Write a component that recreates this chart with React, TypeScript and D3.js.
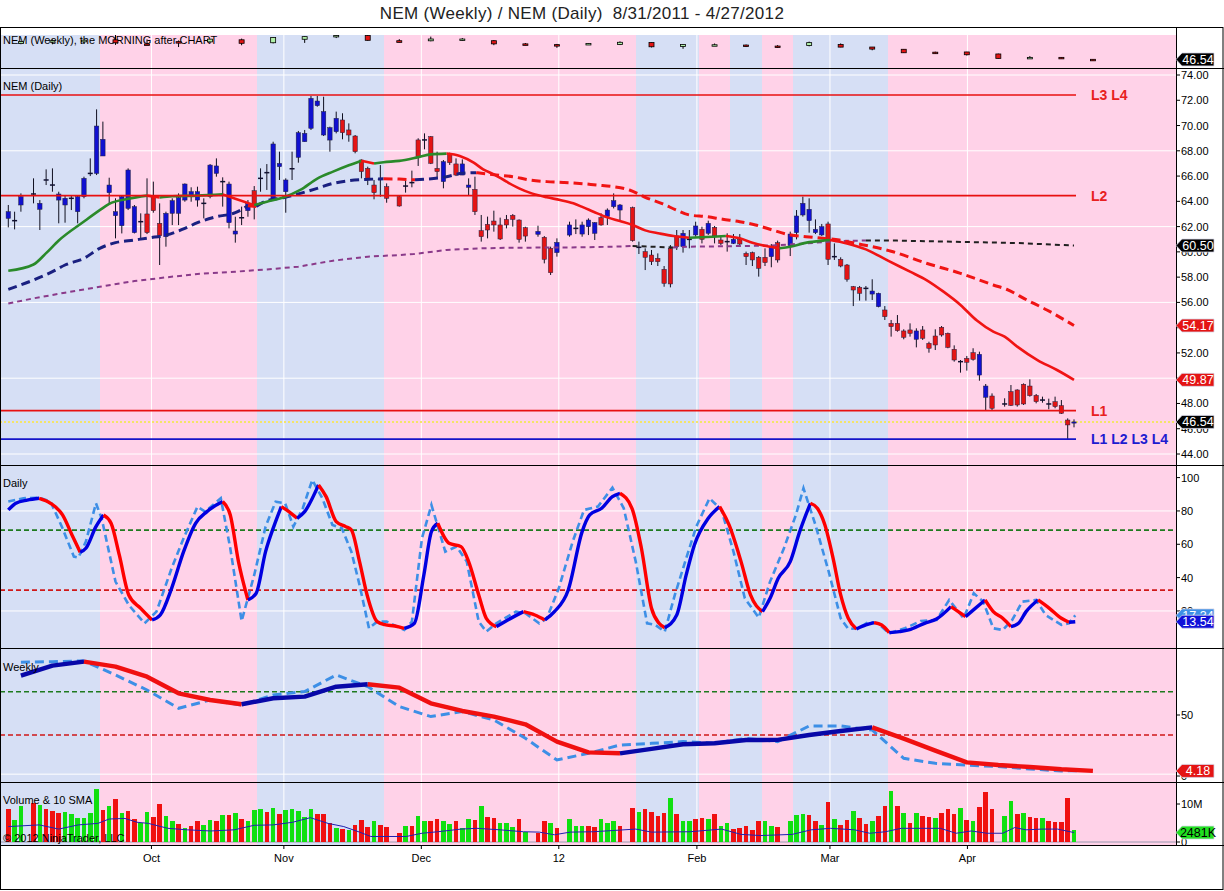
import React from 'react';
import * as d3 from 'd3';

type Candle = [number, number, number, number, number];
type Pt = [number, number];

// daily bars: [slot, open, high, low, close]; slots are weekdays, holidays are missing
const candles: Candle[] = [
  [0, 62.65, 63.71, 61.94, 63.18], [1, 62.47, 63.18, 61.78, 62.47], [2, 63.71, 64.63, 63.18, 64.37],
  [4, 64.58, 65.82, 63.84, 64.58], [5, 63.37, 64.1, 61.73, 63.84], [6, 65.69, 66.53, 65.29, 65.69],
  [7, 65.29, 66.61, 64.76, 65.29], [8, 64.1, 64.76, 62.26, 64.58], [9, 63.71, 64.5, 62.31, 64.24],
  [10, 64.24, 64.5, 63.31, 64.24], [11, 63.18, 64.5, 62.26, 64.37], [12, 64.37, 65.95, 64.24, 65.82],
  [13, 66.21, 67.4, 66.0, 66.21], [14, 66.21, 71.28, 66.08, 69.96], [15, 67.59, 70.31, 67.59, 68.91],
  [16, 64.68, 65.87, 63.84, 65.29], [17, 62.86, 64.24, 61.07, 63.18], [18, 62.07, 64.5, 61.46, 64.37],
  [19, 63.44, 66.61, 63.31, 66.48], [20, 61.52, 63.71, 61.46, 63.58], [21, 62.39, 63.05, 61.07, 62.39],
  [22, 63.0, 65.82, 61.41, 61.52], [23, 64.37, 65.56, 63.1, 63.26], [24, 62.26, 63.84, 58.96, 61.28],
  [25, 61.2, 63.18, 60.41, 63.05], [26, 63.05, 64.24, 62.12, 64.05], [27, 63.05, 64.63, 62.12, 64.29],
  [28, 64.1, 65.42, 63.97, 65.37], [29, 64.42, 65.11, 63.97, 64.76], [30, 64.1, 65.16, 63.58, 64.76],
  [31, 63.84, 64.24, 62.65, 63.84], [32, 64.37, 66.95, 64.24, 66.87], [33, 66.21, 67.4, 65.95, 66.8],
  [34, 65.56, 65.9, 63.58, 65.56], [35, 62.31, 65.56, 61.86, 65.37], [36, 61.41, 62.78, 60.73, 61.65],
  [37, 62.7, 63.58, 62.12, 62.7], [38, 63.26, 64.1, 62.78, 63.84], [39, 64.84, 65.21, 62.57, 63.63],
  [40, 65.82, 66.61, 64.76, 65.82], [41, 66.27, 66.95, 64.9, 66.27], [42, 64.16, 68.72, 64.05, 68.54],
  [43, 66.74, 67.93, 65.69, 67.0], [44, 64.76, 65.82, 63.1, 65.69], [45, 66.58, 67.93, 65.69, 66.58],
  [46, 67.48, 69.57, 67.06, 69.43], [47, 68.72, 69.65, 68.72, 69.38], [48, 69.78, 72.34, 69.65, 72.15],
  [49, 71.57, 72.34, 71.49, 71.94], [50, 69.25, 72.28, 69.17, 71.1], [51, 68.85, 69.91, 67.93, 69.83],
  [52, 69.51, 71.1, 69.38, 70.57], [53, 70.44, 70.97, 68.91, 69.43], [54, 69.65, 70.17, 68.72, 69.25],
  [55, 69.17, 69.25, 67.8, 67.93], [56, 67.27, 67.32, 65.82, 66.35], [57, 66.61, 66.74, 65.29, 65.69],
  [58, 65.29, 65.69, 64.16, 64.68], [59, 65.74, 66.87, 64.37, 65.74], [60, 65.16, 65.42, 63.89, 64.24],
  [62, 64.37, 64.5, 63.58, 63.63], [63, 65.21, 65.64, 64.69, 65.21], [64, 65.48, 66.43, 65.11, 65.48],
  [65, 68.86, 68.99, 66.8, 67.54], [66, 68.86, 69.38, 68.12, 68.86], [67, 69.12, 69.17, 66.95, 67.01],
  [68, 66.61, 67.93, 65.82, 66.35], [69, 65.56, 67.27, 65.03, 67.14], [70, 67.8, 67.85, 66.88, 67.06],
  [71, 66.96, 67.4, 66.0, 66.08], [72, 66.08, 67.32, 66.08, 66.96], [73, 65.11, 65.82, 64.5, 65.29],
  [74, 64.95, 65.95, 62.92, 63.18], [75, 61.68, 62.92, 60.81, 61.2], [76, 62.18, 62.79, 61.07, 61.73],
  [77, 62.44, 63.26, 61.6, 62.13], [78, 62.13, 62.71, 60.94, 61.02], [79, 62.57, 62.92, 61.86, 62.13],
  [80, 62.89, 62.99, 62.0, 62.57], [81, 62.52, 62.57, 60.73, 60.99], [82, 61.91, 61.99, 60.81, 61.25],
  [84, 61.39, 62.07, 61.2, 61.62], [85, 61.15, 61.25, 59.09, 59.41], [86, 60.28, 60.41, 58.17, 58.35],
  [87, 59.94, 61.07, 59.62, 60.75], [89, 61.33, 62.39, 61.2, 62.13], [90, 61.86, 62.57, 61.41, 61.86],
  [91, 61.41, 62.39, 61.2, 62.13], [92, 61.99, 62.65, 61.33, 62.52], [93, 61.47, 62.36, 60.94, 62.31],
  [94, 62.71, 63.05, 62.07, 62.13], [95, 62.79, 63.44, 62.13, 63.31], [96, 63.58, 64.63, 63.44, 64.05],
  [97, 63.31, 63.79, 62.52, 63.71], [99, 63.5, 63.58, 60.81, 60.89], [100, 60.36, 60.81, 59.83, 60.36],
  [101, 60.02, 60.28, 58.56, 59.57], [102, 59.75, 60.15, 58.96, 59.22], [103, 59.49, 59.88, 58.88, 59.22],
  [104, 58.62, 58.88, 57.24, 57.51], [105, 60.28, 60.54, 57.19, 57.46], [106, 61.26, 61.73, 60.15, 60.41],
  [107, 60.41, 61.73, 59.94, 61.47], [108, 60.99, 61.73, 60.28, 60.99], [109, 61.34, 62.39, 61.2, 62.05],
  [110, 61.78, 61.99, 60.67, 60.99], [111, 61.47, 62.47, 61.34, 62.26], [112, 61.94, 62.05, 60.67, 61.26],
  [113, 60.94, 61.26, 60.54, 60.67], [114, 60.81, 61.47, 60.02, 60.81], [115, 60.67, 61.41, 60.62, 60.99],
  [116, 60.99, 61.41, 60.54, 60.62], [117, 59.88, 60.02, 58.96, 59.62], [118, 59.94, 60.02, 58.88, 59.36],
  [119, 59.57, 59.67, 58.04, 58.7], [120, 59.57, 60.28, 58.88, 59.15], [121, 59.62, 60.62, 58.78, 60.41],
  [122, 60.73, 60.89, 59.15, 59.36], [124, 60.49, 61.6, 59.67, 61.41], [125, 61.52, 63.31, 60.99, 62.84],
  [126, 62.92, 64.37, 62.79, 63.84], [127, 62.47, 64.24, 61.52, 63.37], [128, 61.52, 62.57, 61.41, 61.78],
  [129, 61.34, 62.21, 61.26, 61.99], [130, 62.21, 62.39, 58.96, 59.41], [131, 59.62, 60.67, 59.36, 59.62],
  [132, 59.41, 59.57, 58.78, 58.88], [133, 58.96, 59.04, 57.64, 57.83], [134, 57.25, 57.3, 55.71, 56.98],
  [135, 57.19, 57.3, 56.14, 56.72], [136, 57.11, 57.3, 56.14, 57.11], [137, 56.66, 57.83, 56.19, 56.9],
  [138, 55.66, 56.77, 55.61, 56.72], [139, 55.4, 55.71, 54.61, 54.87], [140, 54.34, 54.61, 53.29, 54.08],
  [141, 54.34, 55.0, 53.68, 53.76], [142, 53.74, 53.87, 53.08, 53.24], [143, 53.82, 54.34, 53.29, 53.55],
  [144, 53.08, 53.95, 52.44, 53.74], [145, 53.82, 54.13, 53.03, 53.16], [146, 52.76, 52.89, 52.02, 52.37],
  [147, 53.34, 53.87, 52.23, 52.63], [148, 54.03, 54.13, 53.29, 53.42], [149, 53.55, 53.61, 52.37, 52.44],
  [150, 52.29, 52.6, 51.31, 51.44], [151, 51.31, 51.44, 50.44, 51.31], [152, 51.57, 51.76, 50.6, 51.26],
  [153, 52.02, 52.37, 51.39, 51.49], [154, 50.25, 52.1, 49.8, 51.89], [155, 48.49, 49.54, 47.48, 49.38],
  [156, 48.59, 48.8, 47.48, 47.62], [158, 47.96, 48.41, 47.75, 47.96], [159, 48.93, 49.46, 47.8, 47.85],
  [160, 49.07, 49.12, 47.75, 47.88], [161, 49.52, 49.59, 47.88, 47.96], [162, 49.38, 49.91, 48.54, 48.62],
  [163, 48.64, 48.75, 48.01, 48.14], [164, 48.27, 48.54, 48.06, 48.27], [165, 47.96, 48.38, 47.54, 47.96],
  [166, 48.14, 48.54, 47.62, 47.75], [167, 47.83, 48.27, 47.17, 47.22], [168, 46.69, 46.82, 45.16, 46.3],
  [169, 46.5, 46.74, 46.11, 46.54],
];

// volume in millions per slot, null = holiday
const volumes: (number | null)[] = [
  8.7, 5.8, 9.5, null, 10.2, 9.8, 8.7, 8.2, 7.6, 8.0,
  7.4, 6.3, 6.4, 7.6, 13.9, 8.4, 9.5, 11.3, 7.6, 8.2,
  6.1, 5.1, 8.0, 6.7, 9.9, 6.9, 5.5, 4.8, 3.8, 4.2,
  5.5, 4.5, 5.8, 5.4, 7.1, 7.1, 7.7, 6.1, 5.4, 8.4,
  8.7, 8.0, 8.9, 7.4, 8.4, 8.7, 8.2, 6.7, 8.7, 7.4,
  7.4, 5.0, 3.8, 3.4, 3.2, 4.5, 5.8, 4.0, 5.5, 4.5,
  4.0, null, 2.5, 4.2, 4.2, 6.9, 5.4, 5.4, 6.1, 5.4,
  4.8, 5.4, 3.8, 6.1, 5.8, 9.5, 6.7, 6.4, 5.1, 5.1,
  4.0, 6.1, 2.7, null, 2.3, 5.4, 5.0, 3.6, null, 6.1,
  4.2, 4.2, 4.2, 4.0, 6.1, 5.1, 5.4, 4.2, null, 8.9,
  8.0, 8.7, 8.0, 6.9, 7.6, 11.7, 7.4, 5.6, 5.4, 6.1,
  6.4, 6.1, 7.4, 4.2, 5.0, 3.4, 3.8, 4.2, 3.2, 5.5,
  5.5, 4.2, 4.0, null, 5.5, 7.1, 7.4, 7.1, 5.5, 4.5,
  10.4, 6.1, 4.5, 5.8, 8.2, 6.4, 4.8, 5.5, 6.9, 9.5,
  13.5, 9.5, 7.7, 5.1, 7.7, 6.9, 6.7, 6.4, 7.7, 8.7,
  7.4, 8.9, 5.8, 5.4, 9.3, 13.2, 8.6, null, 6.9, 10.7,
  7.4, 7.7, 6.5, 6.4, 6.3, 5.5, 5.2, 5.2, 11.7, 3.1,
];
const volDir =
  'rggxrgrrrg' + 'gggggrgrgr' + 'rggrrggrgr' + 'rggrgrgrgg' + 'grgrgggggr' +
  'rrgrgrrrgr' + 'rxrgrggrrg' + 'grggrgrrgg' + 'grgxrrgrxg' + 'ggrrgggrxr' +
  'grrrrgrggr' + 'rgrggrrrrr' + 'ggrxgggrrg' + 'rgrrgrrgrr' + 'grgrgrrgrr' +
  'rgrgrrrxgg' + 'rgrrgrrrrg';

const volSma: Pt[] = [
  [0, 4.06], [4.9, 4.5], [8, 3.4], [11.1, 4.5], [14.2, 4.9], [16, 6.05], [18.5, 6.2], [20.4, 5.2],
  [22.2, 4.9], [25.3, 3.6], [28.4, 3.2], [32.1, 2.9], [35.8, 3.2], [39, 4.4], [42, 4.5], [45.1, 5.2],
  [47.9, 6.4], [50.7, 4.9], [53.2, 4.06], [55.7, 2.6], [57.5, 1.45], [63.1, 1.45], [65.6, 2.3],
  [68.1, 2.7], [71.8, 3.4], [74.3, 3.6], [78, 3.2], [81.7, 2.7], [84.2, 2.6], [86.6, 1.9], [89.1, 2.6],
  [92.8, 2.7], [99.5, 3.4], [102, 2.6], [108.1, 2.7], [113.1, 3.4], [116.2, 2.0], [119.3, 1.7],
  [124.3, 2.0], [127.3, 3.2], [130.4, 3.6], [134.2, 3.2], [136.6, 2.3], [139.1, 2.7], [141.6, 3.6],
  [147.8, 3.6], [150.3, 2.3], [152.7, 2.9], [155.2, 2.3], [157.7, 2.3], [159.6, 3.8], [161.4, 3.2],
  [163.9, 3.4], [166.4, 3.4], [169, 2.48],
];

// moving averages on the price panel
const maFast: Pt[] = [
  [0, 58.5], [4, 59.0], [6, 59.9], [8, 60.9], [12, 62.4], [14.5, 63.3], [16, 63.8], [19, 64.2],
  [22, 64.45], [24, 64.3], [26, 64.4], [30, 64.45], [34, 64.55], [36, 64.2], [39, 63.7], [41, 63.97],
  [43.6, 64.3], [46.3, 64.9], [49, 65.8], [51.5, 66.35], [54, 66.85], [56, 67.22], [58, 67.0],
  [59.5, 67.1], [62, 67.2], [65, 67.5], [67, 67.72], [69.5, 67.78], [71.6, 67.59], [73.8, 67.06],
  [75.3, 66.53], [77, 66.14], [79, 65.56], [81, 65.03], [83, 64.63], [85.4, 64.32], [87.5, 64.11],
  [89.6, 63.84], [91.2, 63.52], [92.8, 63.18], [95, 62.73], [97, 62.44], [99, 62.13], [101, 61.7],
  [103.3, 61.45], [105.5, 61.25], [108, 61.12], [111.7, 61.2], [113.8, 61.26], [116, 61.07],
  [118, 60.73], [120.2, 60.46], [122.3, 60.28], [124, 60.41], [126.6, 60.73], [129.2, 60.89],
  [130.3, 60.94], [133, 60.67], [136, 60.2], [139.5, 59.3], [143, 58.43], [145.6, 57.77],
  [148.3, 56.85], [151, 55.8], [153.6, 54.56], [156.2, 53.68], [158, 53.29], [160, 52.5],
  [163.2, 51.44], [166.3, 50.65], [169, 49.87],
];
const maSlow: Pt[] = [
  [0, 57.03], [4, 57.77], [7, 58.43], [9, 58.96], [12, 59.49], [14.5, 60.28], [17, 60.73], [20, 60.94],
  [22.5, 61.12], [25, 61.33], [28, 61.86], [30, 62.31], [33, 62.78], [36, 63.1], [38, 63.65],
  [39.3, 63.6], [41, 64.05], [43.6, 64.29], [46.3, 64.63], [49, 65.03], [51.5, 65.42], [54, 65.63],
  [57, 65.74], [59.5, 65.78], [62, 65.76], [64.5, 65.7], [69.5, 65.95], [72, 66.22], [74.2, 66.27],
  [77.4, 66.08], [80, 65.95], [82.7, 65.69], [85.4, 65.56], [88, 65.5], [90.6, 65.42], [93.3, 65.29],
  [96, 65.16], [98.5, 64.9], [101, 64.32], [103.8, 63.79], [106, 63.3], [108, 62.92], [110.7, 62.79],
  [113.3, 62.58], [116, 62.39], [118.5, 62.13], [121.2, 61.73], [124, 61.34], [126.5, 61.2],
  [129.2, 61.07], [131.8, 60.94], [134.4, 60.67], [137, 60.41], [140, 60.05], [145.6, 59.1],
  [151, 58.3], [156.2, 57.38], [158.3, 57.04], [161.5, 56.2], [164.7, 55.4], [169, 54.17],
];
const maLong: Pt[] = [
  [0, 55.92], [4, 56.32], [9, 56.77], [14.5, 57.24], [20, 57.69], [25, 57.98], [30, 58.25], [36, 58.43],
  [41, 58.61], [46, 58.83], [51.5, 59.3], [57, 59.62], [62, 59.75], [64.3, 59.83], [69.5, 60.15],
  [74.8, 60.28], [80, 60.33], [85.4, 60.34], [90.6, 60.36], [96, 60.41], [99, 60.46], [105.4, 60.35],
  [108, 60.41], [116, 60.46], [121, 60.5], [126.5, 60.67], [131.8, 60.86], [136, 60.9], [141, 60.89],
  [150, 60.8], [160, 60.7], [169, 60.5],
];

// daily stochastics: solid %D and dashed %K
const stochD: Pt[] = [
  [0, 80.6], [1.2, 84.6], [3, 86.5], [4.9, 87.6], [6.7, 84.6], [8.6, 77.6], [10.1, 65.6], [11.4, 55.2],
  [12.3, 57.6], [13.9, 70.6], [15.1, 77.6], [16.3, 72.6], [17.6, 53.6], [19.1, 29.6], [21, 21.6],
  [22.8, 14.6], [24.1, 17.6], [25.9, 33.6], [27.8, 55.6], [29.7, 72.6], [31.5, 79.6], [34, 85.6],
  [35.2, 77.6], [36.5, 49.6], [38, 26.6], [39.3, 30.6], [40.8, 55.6], [42.1, 70.6], [43.3, 82.6],
  [44.5, 79.6], [45.8, 75.6], [47, 79.6], [49.2, 95.6], [50.4, 88.6], [52, 73.6], [53.5, 70.6],
  [54.4, 68.6], [55.7, 49.6], [56.9, 29.6], [58.5, 13.6], [59.7, 11.8], [61.3, 11.0], [62.8, 9.6],
  [64.4, 12.6], [65.9, 41.6], [67.1, 67.6], [68.1, 72.6], [69.9, 60.6], [71.8, 58.6], [73, 49.6],
  [74.6, 29.6], [75.8, 15.6], [77.4, 10.6], [79.2, 14.6], [81.7, 19.6], [83.5, 17.6], [85.1, 14.6],
  [86.6, 19.6], [88.8, 32.6], [91, 67.6], [92.2, 77.6], [94.1, 81.6], [95.8, 88.6], [97, 90.6],
  [98.9, 81.6], [100.4, 57.6], [102, 21.6], [103.2, 12.6], [104.1, 10], [106, 17.6], [107.5, 41.6],
  [108.8, 59.6], [111, 75.6], [112.8, 82.6], [114.3, 71.6], [116.2, 49.6], [117.7, 29.6], [119.6, 19.6],
  [120.8, 27.6], [122.1, 39.6], [124, 49.6], [125.5, 67.6], [127.2, 84.6], [128.3, 81.6], [129.5, 71.6],
  [130.8, 51.6], [132, 29.6], [133.2, 15.6], [134.5, 9.2], [136, 11.6], [137.3, 13], [138.5, 11.6],
  [139.7, 7.0], [141.3, 7.6], [142.8, 8.6], [145.3, 12.6], [147.2, 15.2], [149.5, 22.6], [151.8, 16.6],
  [154.9, 26.6], [156.2, 19.6], [157.7, 15.6], [159, 10.6], [160.2, 12.6], [161.4, 19.6], [163.3, 26.6],
  [165.1, 21.6], [167, 15.6], [168.2, 13.2], [169.2, 13.54],
];
const stochK: Pt[] = [
  [0, 85.6], [2.4, 87.6], [4.9, 88], [6.7, 85.6], [8.6, 69.6], [10.4, 52.6], [11.1, 52], [12.3, 61.6],
  [13.9, 84.6], [14.8, 75.6], [17, 37.6], [19.1, 23.6], [21.6, 12.6], [23.5, 19.6], [25.9, 45.6],
  [27.8, 63.6], [30, 82.6], [31.2, 79.6], [33.7, 87.6], [35.2, 57.6], [37, 14], [39, 41.6], [40.8, 70.6],
  [42.4, 85.6], [43.9, 84.6], [45.2, 70.6], [46.7, 81.6], [48.2, 98.6], [49.8, 87.6], [51.4, 71.6],
  [52.9, 69.6], [54.4, 55.6], [55.7, 35.6], [57.2, 9.6], [58.5, 13.6], [60, 13.6], [62.8, 8.6],
  [64, 13.6], [65.6, 63.6], [67.1, 83.6], [69.3, 55.6], [71.1, 58.6], [72.7, 49.6], [74.6, 13.6],
  [75.8, 7.6], [77.4, 12.6], [80.5, 19.6], [82, 18.6], [84.2, 12.6], [85.4, 15.6], [87.3, 33.6],
  [89.5, 61.6], [91.3, 80.6], [93.5, 82.6], [95.8, 94], [97.6, 81.6], [99.5, 49.6], [101.3, 12.6],
  [102.6, 11.6], [104.1, 7.6], [105.7, 29.6], [107.5, 51.6], [109.1, 70.6], [111.2, 87.6], [113.1, 80.6],
  [115, 55.6], [116.8, 27.6], [119, 16], [120.8, 37.6], [123, 57.6], [124.9, 77.6], [126.1, 93.6],
  [128, 71.6], [130.1, 43.6], [132, 15.6], [133.2, 9.2], [134.8, 9.6], [136.3, 13.2], [137.9, 12.6],
  [139.7, 6.6], [142.2, 9.6], [144.7, 14], [147.2, 14.6], [149.2, 26.6], [151.5, 15.6], [153.1, 30.6],
  [154.6, 25.6], [156.2, 9.6], [157.7, 8.6], [159.2, 14.6], [160.8, 25.6], [163, 26.6], [164.5, 17.6],
  [167, 11.6], [168.2, 12.6], [169.2, 17.34],
];

// weekly bars (plotted on the Friday slot)
const weeklyIdx = [
  2, 7, 12, 17, 22, 27, 32, 37, 42, 47, 52, 57, 62, 67, 72, 77, 82, 87,
  92, 97, 102, 107, 112, 117, 122, 127, 132, 137, 142, 147, 152, 157, 162, 167, 172,
];
const weeklyBars: [number, number, number, number][] = [
  [62.65, 64.63, 61.78, 64.37], [64.55, 66.61, 61.73, 65.29], [64.1, 65.95, 62.26, 65.82],
  [66.2, 71.28, 61.07, 63.18], [62.07, 66.61, 61.07, 61.52], [64.37, 65.56, 58.96, 64.29],
  [64.1, 66.95, 62.65, 66.87], [66.21, 67.4, 60.73, 62.7], [63.26, 68.72, 62.57, 68.54],
  [66.74, 69.65, 63.1, 69.38], [69.78, 72.34, 67.93, 70.57], [70.44, 70.97, 65.29, 65.69],
  [65.29, 66.87, 63.58, 63.63], [65.2, 69.38, 64.69, 67.01], [66.61, 67.93, 65.03, 66.96],
  [65.29, 65.95, 60.81, 62.13], [62.13, 62.99, 60.73, 61.25], [61.39, 62.07, 58.17, 60.75],
  [61.33, 62.65, 61.2, 62.52], [61.47, 64.63, 60.94, 63.71], [63.5, 63.58, 58.56, 59.22],
  [59.51, 61.73, 57.19, 61.47], [60.99, 62.47, 60.28, 61.26], [60.94, 61.47, 58.96, 59.62],
  [59.94, 60.89, 58.04, 59.36], [60.49, 64.37, 59.67, 63.37], [61.52, 62.57, 58.78, 58.88],
  [58.96, 59.04, 55.71, 56.9], [56.72, 56.77, 53.08, 53.24], [53.82, 54.34, 52.02, 52.63],
  [54.03, 54.13, 50.44, 51.26], [52.02, 52.37, 47.48, 47.62], [47.96, 49.91, 47.75, 48.62],
  [48.64, 48.75, 47.17, 47.22], [46.69, 46.82, 45.16, 46.54],
];
// weekly trend shading: b = blue, p = pink
const weeklyBand = 'bbbpppppbbbbppppppppbbpbpbbbppppppp';
const wkSolid = [
  82.2, 90.5, 93.7, 89.6, 81.4, 67.8, 62.3, 58.8, 63.7, 65.1, 73.2, 75.2, 72.4, 59.6, 53.3, 48.7, 42.4, 28.2,
  19.4, 18.6, 22.2, 26.0, 26.8, 29.5, 29.6, 33.6, 36.9, 39.9, 30.6, 20.8, 11.2, 9.0, 7.4, 5.5, 4.18,
];
const wkDashed = [
  93.2, 93.7, 94.3, 82.8, 70.5, 55.5, 62.3, 58.2, 66.4, 69.2, 82.8, 73.3, 56.9, 48.7, 52.8, 45.9, 30.9, 13.1,
  18.6, 25.4, 26.8, 28.2, 26.8, 30.9, 28.2, 41.0, 41.0, 37.7, 14.5, 10.4, 9.0, 7.7, 5.8, 4.1, 4.6,
];

const monthTicks = [22.7, 43.7, 65.5, 87.3, 109.2, 130.3, 152.1];
const monthLabels = ['Oct', 'Nov', 'Dec', '12', 'Feb', 'Mar', 'Apr'];
const priceTicks = [44, 46, 48, 50, 52, 54, 56, 58, 60, 62, 64, 66, 68, 70, 72, 74];
const priceGrid = [44, 50, 56, 62, 68, 74];
const dailyTicks = [20, 40, 60, 80, 100];
const dailyLevels = [68.5, 32.5];
const weeklyLevels = [69, 33.6];
const levelPrices = [72.42, 64.45, 47.43, 45.18];
const levelLabels = ['L3 L4', 'L2', 'L1', 'L1 L2 L3 L4'];
const lastPrice = 46.54;
const lastVolumeK = 2481;

const FONT = '"Liberation Sans", Arial, sans-serif';
const RIGHT = 1176;
const RED = '#f01414';
const BLUE_BAND = '#d6dff5';
const PINK_BAND = '#ffd2e8';

const x = d3.scaleLinear().domain([0, 169]).range([8.3, 1074]);
const yS = d3.scaleLinear().domain([38, 78]).range([68, 28]);
const yP = d3.scaleLinear().domain([44, 74]).range([454, 75]);
const yD = d3.scaleLinear().domain([0, 100]).range([644.3, 477.6]);
const yW = d3.scaleLinear().domain([0, 50]).range([776, 715]);
const yV = d3.scaleLinear().domain([0, 10]).range([842, 804]);

function runs(pts: Pt[]) {
  const out: { up: boolean; pts: Pt[] }[] = [];
  for (let i = 1; i < pts.length; i++) {
    const up = pts[i][1] > pts[i - 1][1];
    const last = out[out.length - 1];
    if (last && last.up === up) last.pts.push(pts[i]);
    else out.push({ up, pts: [pts[i - 1], pts[i]] });
  }
  return out;
}

const TwoTone: React.FC<{
  pts: Pt[]; y: d3.ScaleLinear<number, number>; up: string; down: string;
  width: number; dash?: string; curve?: boolean;
}> = ({ pts, y, up, down, width, dash, curve }) => {
  const line = d3.line<Pt>().x(d => x(d[0])).y(d => y(d[1]))
    .curve(curve ? d3.curveMonotoneX : d3.curveLinear);
  return (
    <g>
      {runs(pts).map((r, i) => (
        <path key={i} d={line(r.pts) || ''} fill="none" stroke={r.up ? up : down}
          strokeWidth={width} strokeDasharray={dash} strokeLinejoin="round" />
      ))}
    </g>
  );
};

// value tag on the right axis, pointing left
const Tag: React.FC<{ y: number; text: string; bg: string; fg?: string }> = ({ y, text, bg, fg = '#fff' }) => (
  <g>
    <polygon points={`${RIGHT},${y} ${RIGHT + 6},${y - 6.5} ${RIGHT + 38},${y - 6.5} ${RIGHT + 38},${y + 6.5} ${RIGHT + 6},${y + 6.5}`}
      fill={bg} stroke="#d8d8e8" strokeWidth={0.8} />
    <text x={RIGHT + 22} y={y + 4.5} textAnchor="middle" fontSize={12.5} fill={fg} fontFamily={FONT}>{text}</text>
  </g>
);

const panels = [
  { id: 'strip', top: 35, bottom: 68 },
  { id: 'price', top: 68, bottom: 465 },
  { id: 'daily', top: 465, bottom: 648 },
  { id: 'weekly', top: 648, bottom: 782 },
  { id: 'volume', top: 782, bottom: 845 },
];

export default function App() {
  const bands = weeklyIdx.map((w, k) => ({
    x0: k === 0 ? 0 : x(w - 2.5),
    x1: k === weeklyIdx.length - 1 ? RIGHT : x(w + 2.5),
    color: weeklyBand[k] === 'b' ? BLUE_BAND : PINK_BAND,
  }));
  const wkSolidPts: Pt[] = weeklyIdx.map((w, k) => [w, wkSolid[k]]);
  const wkDashedPts: Pt[] = weeklyIdx.map((w, k) => [w, wkDashed[k]]);
  const lineP = (pts: Pt[], y: d3.ScaleLinear<number, number>) =>
    d3.line<Pt>().x(d => x(d[0])).y(d => y(d[1]))(pts) || '';

  return (
    <svg width={1224} height={891} style={{ position: 'absolute', left: 0, top: 0, background: '#fff' }}
      fontFamily={FONT}>
      <defs>
        {panels.map(p => (
          <clipPath key={p.id} id={`clip-${p.id}`}>
            <rect x={0} y={p.top} width={RIGHT} height={p.bottom - p.top} />
          </clipPath>
        ))}
      </defs>

      <text x={582} y={19} textAnchor="middle" fontSize={17} letterSpacing={0.3} fill="#222"
        style={{ whiteSpace: 'pre' }}>
        {'NEM (Weekly) / NEM (Daily)  8/31/2011 - 4/27/2012'}
      </text>

      {/* shaded weekly bands in every panel */}
      {panels.map(p => (
        <g key={p.id}>
          {bands.map((b, i) => (
            <rect key={i} x={b.x0} y={p.top} width={b.x1 - b.x0} height={p.bottom - p.top}
              fill={b.color} shapeRendering="crispEdges" />
          ))}
          {monthTicks.map((m, i) => (
            <line key={i} x1={x(m)} x2={x(m)} y1={p.top} y2={p.bottom} stroke="#fff" strokeWidth={1} />
          ))}
        </g>
      ))}
      {priceGrid.map(v => (
        <line key={v} x1={0} x2={RIGHT} y1={yP(v)} y2={yP(v)} stroke="#fff" />
      ))}
      {[20, 80].map(v => (
        <line key={v} x1={0} x2={RIGHT} y1={yD(v)} y2={yD(v)} stroke="#fff" />
      ))}
      <line x1={0} x2={RIGHT} y1={yW(1.5)} y2={yW(1.5)} stroke="#fff" />

      {/* weekly strip */}
      <g clipPath="url(#clip-strip)">
        <text x={3} y={44} fontSize={11} fill="#000">NEM (Weekly), the MORNING after CHART</text>
        {weeklyBars.map(([o, h, l, c], k) => {
          const cx = x(weeklyIdx[k]);
          const top = yS(Math.max(o, c));
          const bh = Math.max(1.5, Math.abs(yS(o) - yS(c)));
          return (
            <g key={k}>
              <line x1={cx} x2={cx} y1={yS(h)} y2={yS(l)} stroke="#000" />
              <rect x={cx - 2.5} y={top} width={5} height={bh} fill={c >= o ? '#b0f0a8' : '#e41414'}
                stroke="#000" strokeWidth={0.8} />
            </g>
          );
        })}
      </g>

      {/* price panel */}
      <g clipPath="url(#clip-price)">
        <line x1={0} x2={RIGHT} y1={yP(lastPrice)} y2={yP(lastPrice)} stroke="#f4e468" strokeWidth={2} strokeDasharray="2,2" />
        {candles.map(([i, o, h, l, c]) => {
          const cx = x(i);
          const doji = Math.abs(c - o) < 0.02;
          const col = doji ? '#101030' : c > o ? '#1010d0' : '#e41414';
          const top = yP(Math.max(o, c));
          const bh = Math.max(1.2, Math.abs(yP(o) - yP(c)));
          return (
            <g key={i}>
              <line x1={cx} x2={cx} y1={yP(h)} y2={yP(l)} stroke="#101020" strokeWidth={1} />
              {doji ? (
                <line x1={cx - 2.5} x2={cx + 2.5} y1={top} y2={top} stroke={col} strokeWidth={1.5} />
              ) : (
                <rect x={cx - 2.2} y={top} width={4.4} height={bh} fill={col} stroke="#202040" strokeWidth={0.5} />
              )}
            </g>
          );
        })}
        <TwoTone pts={maLong} y={yP} up="#8a3a8a" down="#202020" width={2} dash="5,4" />
        <TwoTone pts={maSlow} y={yP} up="#1a2080" down={RED} width={3} dash="9,5" curve />
        <TwoTone pts={maFast} y={yP} up="#2a8a2a" down={RED} width={2.6} curve />
        {levelPrices.map((v, i) => (
          <g key={i}>
            <line x1={0} x2={x(169) + 2} y1={yP(v)} y2={yP(v)} stroke={i < 3 ? '#e81010' : '#1414c8'} strokeWidth={1.6} />
            <text x={1091} y={yP(v) + 5} fontSize={14} fontWeight="bold" fill={i < 3 ? '#e82020' : '#1c1cd0'}>
              {levelLabels[i]}
            </text>
          </g>
        ))}
        <text x={3} y={90} fontSize={11} fill="#000">NEM (Daily)</text>
      </g>

      {/* daily stochastics */}
      <g clipPath="url(#clip-daily)">
        {dailyLevels.map((v, i) => (
          <line key={v} x1={0} x2={RIGHT} y1={yD(v)} y2={yD(v)} stroke={i === 0 ? '#1e7a1e' : '#d01818'}
            strokeWidth={1.6} strokeDasharray="5,3" />
        ))}
        <path d={lineP(stochK, yD)} fill="none" stroke="#3d8fe6" strokeWidth={2.6} strokeDasharray="7,4" />
        <TwoTone pts={stochD} y={yD} up="#0000e0" down="#ff0000" width={3.4} curve />
        <text x={3} y={487} fontSize={11} fill="#000">Daily</text>
      </g>

      {/* weekly stochastics */}
      <g clipPath="url(#clip-weekly)">
        {weeklyLevels.map((v, i) => (
          <line key={v} x1={0} x2={RIGHT} y1={yW(v)} y2={yW(v)} stroke={i === 0 ? '#1e7a1e' : '#d01818'}
            strokeWidth={1.6} strokeDasharray="5,3" />
        ))}
        <path d={lineP(wkDashedPts, yW)} fill="none" stroke="#3d8fe6" strokeWidth={3} strokeDasharray="9,5" />
        <TwoTone pts={wkSolidPts} y={yW} up="#0808a8" down="#f01010" width={4.4} />
        <text x={3} y={671} fontSize={11} fill="#000">Weekly</text>
      </g>

      {/* volume */}
      <g clipPath="url(#clip-volume)">
        <line x1={0} x2={RIGHT} y1={yV(0)} y2={yV(0)} stroke="#9a9ab0" />
        {volumes.map((v, i) => v == null ? null : (
          <rect key={i} x={x(i) - 2.3} y={yV(v)} width={4.6} height={yV(0) - yV(v)}
            fill={volDir[i] === 'g' ? '#10e010' : '#f01010'} shapeRendering="crispEdges" />
        ))}
        <path d={lineP(volSma, yV)} fill="none" stroke="#2020b0" strokeWidth={1} />
        <text x={3} y={804} fontSize={11} fill="#000">Volume &amp; 10 SMA</text>
        <text x={3} y={842} fontSize={11} fill="#000">© 2012 NinjaTrader, LLC</text>
      </g>

      {/* frame and panel separators */}
      <rect x={0.5} y={27.5} width={1222.5} height={862} fill="none" stroke="#000" />
      {[68, 465, 648, 782, 845].map(v => (
        <line key={v} x1={0} x2={1224} y1={v + 0.5} y2={v + 0.5} stroke="#000" />
      ))}
      <line x1={RIGHT + 0.5} x2={RIGHT + 0.5} y1={27} y2={845} stroke="#000" />

      {/* right axes */}
      {priceTicks.map(v => (
        <g key={v}>
          <line x1={RIGHT} x2={RIGHT + 4} y1={yP(v)} y2={yP(v)} stroke="#000" />
          <text x={RIGHT + 5} y={yP(v) + 4} fontSize={11} fill="#000">{v.toFixed(2)}</text>
        </g>
      ))}
      {dailyTicks.map(v => (
        <g key={v}>
          <line x1={RIGHT} x2={RIGHT + 4} y1={yD(v)} y2={yD(v)} stroke="#000" />
          <text x={RIGHT + 5} y={yD(v) + 4} fontSize={11} fill="#000">{v}</text>
        </g>
      ))}
      {[0, 50].map(v => (
        <g key={v}>
          <line x1={RIGHT} x2={RIGHT + 4} y1={yW(v)} y2={yW(v)} stroke="#000" />
          <text x={RIGHT + 5} y={yW(v) + 4} fontSize={11} fill="#000">{v}</text>
        </g>
      ))}
      {[0, 10].map(v => (
        <g key={v}>
          <line x1={RIGHT} x2={RIGHT + 4} y1={yV(v)} y2={yV(v)} stroke="#000" />
          <text x={RIGHT + 5} y={yV(v) + 4} fontSize={11} fill="#000">{v === 0 ? '0' : `${v}M`}</text>
        </g>
      ))}

      {/* bottom time axis */}
      {monthTicks.map((m, i) => (
        <g key={i}>
          <line x1={x(m)} x2={x(m)} y1={845} y2={849} stroke="#000" />
          <text x={x(m)} y={862} textAnchor="middle" fontSize={11} fill="#000">{monthLabels[i]}</text>
        </g>
      ))}

      {/* value tags */}
      <Tag y={yS(lastPrice)} text={lastPrice.toFixed(2)} bg="#000" />
      <Tag y={yP(maLong[maLong.length - 1][1])} text={maLong[maLong.length - 1][1].toFixed(2)} bg="#000" />
      <Tag y={yP(maSlow[maSlow.length - 1][1])} text={maSlow[maSlow.length - 1][1].toFixed(2)} bg="#e41414" />
      <Tag y={yP(maFast[maFast.length - 1][1])} text={maFast[maFast.length - 1][1].toFixed(2)} bg="#e41414" />
      <Tag y={yP(lastPrice)} text={lastPrice.toFixed(2)} bg="#000" />
      <Tag y={yD(stochK[stochK.length - 1][1])} text={stochK[stochK.length - 1][1].toFixed(2)} bg="#3d8fe6" />
      <Tag y={yD(stochD[stochD.length - 1][1])} text={stochD[stochD.length - 1][1].toFixed(2)} bg="#1010d8" />
      <Tag y={yW(wkSolid[wkSolid.length - 1])} text={wkSolid[wkSolid.length - 1].toFixed(2)} bg="#e41414" />
      <Tag y={yV(volSma[volSma.length - 1][1])} text={`${lastVolumeK}K`} bg="#20e020" fg="#000" />
    </svg>
  );
}
